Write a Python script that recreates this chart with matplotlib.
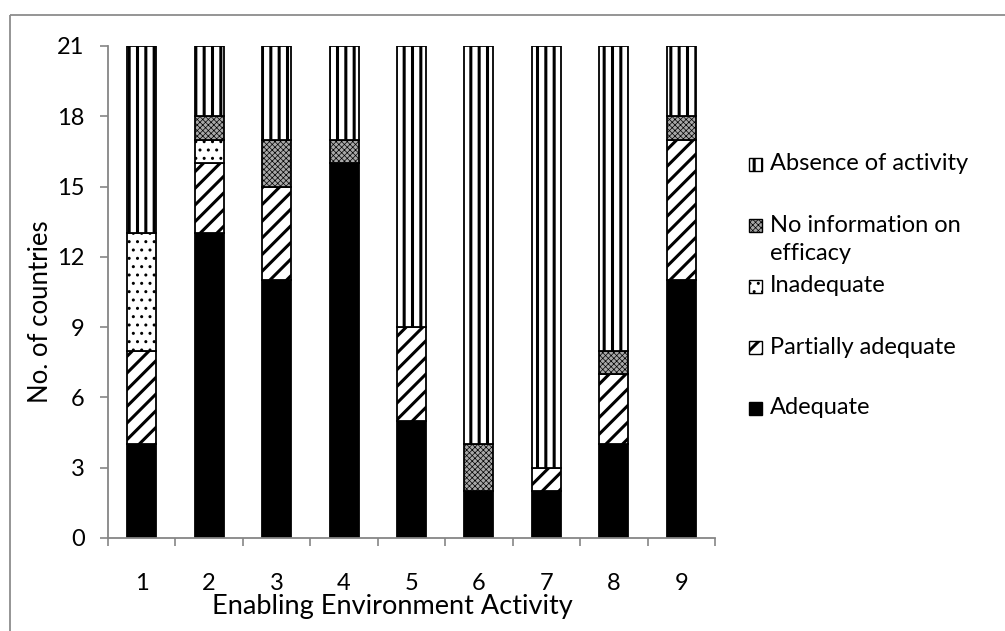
import numpy as np
import matplotlib
matplotlib.use("Agg")
import matplotlib.pyplot as plt
from matplotlib.patches import Rectangle

plt.rcParams["font.family"] = ["Lato", "DejaVu Sans"]

# Countries per efficacy category, stacked bottom to top
activities = ["1", "2", "3", "4", "5", "6", "7", "8", "9"]
adequate = [4, 13, 11, 16, 5, 2, 2, 4, 11]
partially_adequate = [4, 3, 4, 0, 4, 0, 1, 3, 6]
inadequate = [5, 1, 0, 0, 0, 0, 0, 0, 0]
no_information = [0, 1, 2, 1, 0, 2, 0, 1, 1]
absence = [8, 3, 4, 4, 12, 17, 18, 13, 3]

series = [
    ("Adequate", adequate),
    ("Partially adequate", partially_adequate),
    ("Inadequate", inadequate),
    ("No information on\nefficacy", no_information),
    ("Absence of activity", absence),
]

# fill, hatch, hatch width
STYLES = {
    "Adequate": dict(face="black", hatch=None, hlw=1.0),
    "Partially adequate": dict(face="white", hatch="//", hlw=2.2),
    "Inadequate": dict(face="white", hatch="..", hlw=1.0),
    "No information on\nefficacy": dict(face="#a8a8a8", hatch="xxxxxx", hlw=0.5),
    "Absence of activity": dict(face="white", hatch="||", hlw=2.2),
}

AXIS_GREY = "#868686"
W, H = 1005, 631

fig = plt.figure(figsize=(W / 100, H / 100), dpi=100)
ax = fig.add_axes([108 / W, 1 - 538 / H, 607 / W, 492 / H])

x = np.arange(1, len(activities) + 1)
bottom = np.zeros(len(activities))


def styled_bar(target, xs, heights, bottoms, width, st):
    with plt.rc_context({"hatch.linewidth": st["hlw"]}):
        bars = target.bar(xs, heights, width, bottom=bottoms,
                          color=st["face"], edgecolor="black",
                          linewidth=1.3, hatch=st["hatch"])
    for b in bars:
        if hasattr(b, "set_hatch_linewidth"):
            b.set_hatch_linewidth(st["hlw"])
    return bars


for name, vals in series:
    vals = np.array(vals, dtype=float)
    mask = vals > 0
    styled_bar(ax, x[mask], vals[mask], bottom[mask], 0.43, STYLES[name])
    bottom += vals

ax.set_xlim(0.5, len(activities) + 0.5)
ax.set_ylim(0, 21)
ax.set_yticks(np.arange(0, 22, 3))
ax.set_xticks(x)
ax.set_xticklabels(activities)
ax.set_xticks(np.arange(0.5, len(activities) + 1, 1), minor=True)
ax.tick_params(axis="x", which="major", length=0, pad=25, labelsize=17)
ax.tick_params(axis="x", which="minor", length=5.5, width=1.2, color=AXIS_GREY)
ax.tick_params(axis="y", length=5.8, width=1.2, color=AXIS_GREY, pad=11,
               labelsize=17)

for side in ("top", "right"):
    ax.spines[side].set_visible(False)
for side in ("left", "bottom"):
    ax.spines[side].set_color(AXIS_GREY)
    ax.spines[side].set_linewidth(1.3)

ax.set_xlabel("Enabling Environment Activity", fontsize=19.5)
ax.xaxis.set_label_coords(0.468, -0.139)
ax.xaxis.label.set_va("center")
ax.set_ylabel("No. of countries", fontsize=18.5)
ax.yaxis.set_label_coords(-0.112, 0.459)
ax.yaxis.label.set_va("center")

# overlay in pixel units for the chart frame and legend
over = fig.add_axes([0, 0, 1, 1])
over.set_xlim(0, W)
over.set_ylim(H, 0)
over.axis("off")
over.plot([10, W], [15, 15], color="#8c8c8c", lw=1.3, solid_capstyle="butt")
over.plot([10, 10], [15, H], color="#8c8c8c", lw=1.3, solid_capstyle="butt")

legend_y = {
    "Absence of activity": 164,
    "No information on\nefficacy": 225,
    "Inadequate": 286,
    "Partially adequate": 347,
    "Adequate": 408,
}
for name, _ in series:
    st = STYLES[name]
    yc = legend_y[name]
    with plt.rc_context({"hatch.linewidth": st["hlw"]}):
        box = Rectangle((749, yc - 6.5), 13, 13, facecolor=st["face"],
                        edgecolor="black", linewidth=1.0, hatch=st["hatch"])
    if hasattr(box, "set_hatch_linewidth"):
        box.set_hatch_linewidth(st["hlw"])
    over.add_patch(box)
    for i, line in enumerate(name.split("\n")):
        over.text(770, yc + 29 * i, line, fontsize=17, va="center", ha="left")

fig.savefig("out.png", dpi=100)
